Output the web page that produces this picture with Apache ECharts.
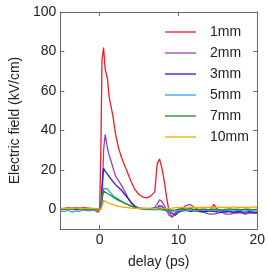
<!DOCTYPE html>
<html><head><meta charset="utf-8">
<script src="https://cdn.jsdelivr.net/npm/echarts@6/dist/echarts.min.js"></script>
<style>html,body{margin:0;padding:0;background:#fff}#c{width:268px;height:274px}</style>
</head><body><div id="c"></div>
<script>
const delay = [-5,-4.5,-4,-3.5,-3,-2.5,-2,-1.5,-1,-0.5,-0.2,0,
  0.15,0.3,0.5,0.7, 1.0,1.2,1.4,1.7,
  2.0,2.4,2.8,3.2,3.6,4.0,
  4.5,5.0,5.5,6.0,6.5,7.0,
  7.3,7.6,7.9,8.2,8.5,8.8,
  9.2,9.6,
  10,10.5,11,11.5,12,12.5,13,13.5,14,14.5,15,15.5,16,16.5,17,17.5,18,18.5,19,19.5,20];
const mm1 = [0.5,0.3,0.8,0.5,1.0,0.6,0.8,0.4,0.2,-0.8,-1.5,0,
  30,76,82,71, 66,57,56,47,
  38.5,31,26,22,18,14,
  9.8,7.5,6.2,5.8,6.8,8.8,
  23,25.5,21,14.4,6,-1,
  -4,-2,
  0,0.5,0,0.5,-0.5,-1,-1.5,-1,-0.5,2.5,-0.5,-1,-1.5,-1,-1.8,-2,-1.5,-2.4,-1.5,-2,-1.8];
const mm2 = [0.2,0.5,0.3,0.6,0.4,0.5,0.3,0.6,0.4,0.3,0.2,0.5,
  0.5,3,30,38, 31,27.5,25,21,
  17,14.5,12,9,5.8,3,
  1.2,0.5,0.5,0.3,0.5,1,
  2.5,4.8,4,2,-0.5,-3,
  -4,-2,
  -0.5,0.5,2,2.4,1,0,-0.8,-2,-2.5,-2.5,-2,-1.5,-2.5,-2.5,-2,-1.5,-2,-2.5,-2,-2,-2];
const mm3 = [0.3,0,0.4,0.2,-0.2,0.3,0,0.4,0.1,0.2,0,0.3,
  0.5,12,20.8,19.2, 17.8,17,15.5,14,
  12.5,11,9.5,7.5,5.5,3.5,
  1.5,0.6,0.3,0.2,0.3,0.4,
  0.8,1.8,1.5,0.4,-0.5,-1.5,
  -2,-3,
  -1.5,-0.8,-0.5,-1,-0.8,-0.5,-1,-1.2,-0.8,-1,-1.3,-1.5,-1,-1.2,-1.5,-1,-1.3,-1.5,-1.2,-1.5,-1.5];
const mm5 = [-0.8,-1.2,-0.5,-1.5,-0.8,-1.0,-0.3,-0.8,-0.5,-0.6,-0.3,-0.2,
  0,6,10.5,11.5, 10.4,9.2,8.2,7,
  6,5,4,3.2,2.4,1.6,
  0.8,0.3,0,-0.2,0,-0.3,
  -0.2,0,-0.3,-0.5,-0.8,-1.2,
  -1.5,-1,
  -0.5,-0.3,-0.6,-0.4,-0.8,-0.5,-0.3,-0.6,-0.5,-0.2,-0.5,-0.8,-0.4,-0.6,-0.3,-0.5,-0.6,-0.3,-0.5,-0.4,-0.3];
const mm7 = [0.2,0,0.3,-0.2,0.1,0.3,0,-0.1,0.2,0,0.1,0.2,
  0,5,9.3,9, 8,7.5,7,6.2,
  5.5,4.5,3.8,3,2.3,1.6,
  1,0.6,0.3,0.3,0.2,0.3,
  0.3,0.5,0.2,0,-0.3,-0.5,
  -0.5,-0.3,
  0,0.2,0,0.3,0,-0.2,0.1,0,-0.2,0.1,0,-0.3,0,0.2,-0.1,0,-0.2,0.1,0,-0.2,0];
const mm10 = [0.5,0.3,0.6,0.4,0.7,0.5,0.3,0.6,0.4,0.5,0.3,0.4,
  0,1.5,4.5,4, 3.3,3,2.7,2.3,
  2,1.5,1.2,1,0.8,0.6,
  0.5,0.4,0.5,0.6,0.5,0.4,
  0.5,0.8,0.6,0.5,0.3,0.5,
  0.6,0.8,
  0.8,1,0.7,0.9,1,0.8,1,0.9,1.1,0.8,1,1.1,0.9,1,1.2,0.9,1,1.1,1,1.2,1];
const names = ['1mm','2mm','3mm','5mm','7mm','10mm'];
const values = [mm1,mm2,mm3,mm5,mm7,mm10];
const colors = ['#ee1c25','#9a3fb8','#1f1fcf','#2c9ff0','#1e8c22','#f2a900'];
const xTicks = [0,10,20];
const yTicks = [0,20,40,60,80,100];

const font = 'Liberation Sans, Arial, sans-serif';
const axisColor = '#666';
const chart = echarts.init(document.getElementById('c'), null, {renderer:'canvas'});
const series = names.map((n,i)=>({
  name:n, type:'line', xAxisIndex:0, yAxisIndex:0,
  data: delay.map((x,j)=>[x, values[i][j]]),
  symbol:'none', smooth:false,
  lineStyle:{color:colors[i], width:1.3}, itemStyle:{color:colors[i]},
  z: 2 + i
}));
const mkX = (pos, show) => ({
  type:'value', position:pos, min:-5, max:20,
  axisLine:{show:true, onZero:false, lineStyle:{color:axisColor, width:1}},
  axisTick:{show:true, inside:true, length:4, customValues:xTicks, lineStyle:{color:axisColor}},
  axisLabel:{show:show, customValues:xTicks, color:'#222', fontSize:14, fontFamily:font, margin:4},
  splitLine:{show:false},
  name: show ? 'delay (ps)' : '', nameLocation:'middle', nameGap:26,
  nameTextStyle:{color:'#222', fontSize:14, fontFamily:font}
});
const mkY = (pos, show) => ({
  type:'value', position:pos, min:-10, max:100,
  axisLine:{show:true, onZero:false, lineStyle:{color:axisColor, width:1}},
  axisTick:{show:true, inside:true, length:4, customValues:yTicks, lineStyle:{color:axisColor}},
  axisLabel:{show:show, customValues:yTicks, color:'#222', fontSize:14, fontFamily:font, margin:4},
  splitLine:{show:false},
  name: show ? 'Electric field (kV/cm)' : '', nameLocation:'middle', nameGap:30,
  nameTextStyle:{color:'#222', fontSize:14, fontFamily:font}
});
chart.setOption({
  animation:false,
  backgroundColor:'#fff',
  grid:{left:49, top:12, right:5, bottom:33, containLabel:false},
  xAxis:[mkX('bottom', true), mkX('top', false)],
  yAxis:[mkY('left', true), mkY('right', false)],
  legend:{
    data:names, orient:'vertical', left:160, top:20,
    itemWidth:31, itemHeight:14, itemGap:7,
    textStyle:{color:'#222', fontSize:14, fontFamily:font, padding:[0,0,0,9]},
    icon:'path://M0,6 L31,6 L31,7.3 L0,7.3 Z'
  },
  series: series
});
</script></body></html>
